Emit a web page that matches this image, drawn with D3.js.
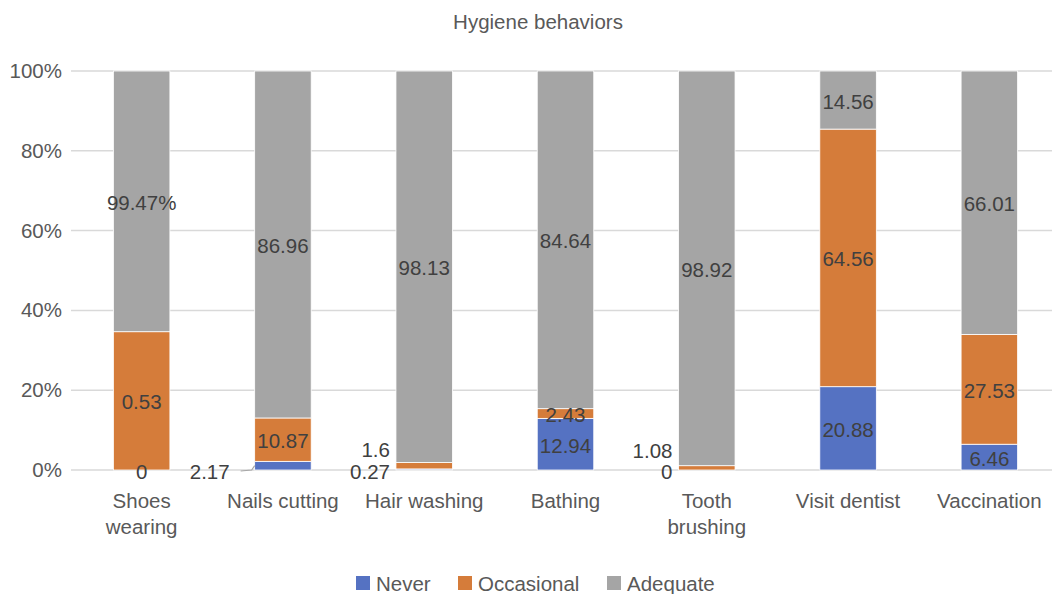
<!DOCTYPE html>
<html>
<head>
<meta charset="utf-8">
<script src="https://cdn.jsdelivr.net/npm/d3@7"></script>
<style>
  body { margin: 0; background: #fff; }
  text { font-family: "Liberation Sans", Arial, sans-serif; }
</style>
</head>
<body>
<div id="chart"></div>
<script>
// chart data
const categories = ['Shoes wearing', 'Nails cutting', 'Hair washing', 'Bathing', 'Tooth brushing', 'Visit dentist', 'Vaccination'];
const seriesNames = ['Never', 'Occasional', 'Adequate'];
// bar heights as drawn in the picture (shoes wearing bar does not match its labels)
const neverVals = [0, 2.17, 0.27, 12.94, 0, 20.88, 6.46];
const occasionalVals = [34.66, 10.87, 1.6, 2.43, 1.08, 64.56, 27.53];
const adequateVals = [65.34, 86.96, 98.13, 84.64, 98.92, 14.56, 66.01];
// label texts shown on the chart
const neverLabels = ['0', '2.17', '0.27', '12.94', '0', '20.88', '6.46'];
const occasionalLabels = ['0.53', '10.87', '1.6', '2.43', '1.08', '64.56', '27.53'];
const adequateLabels = ['99.47%', '86.96', '98.13', '84.64', '98.92', '14.56', '66.01'];
const yTicks = [0, 20, 40, 60, 80, 100];

// chart static params
const width = 1052, height = 594;
const colors = {Never: '#5572c2', Occasional: '#d57c3a', Adequate: '#a5a5a5'};
const margin = {top: 71, right: -8, bottom: 124, left: 71};
const plotW = width - margin.left - margin.right;
const plotH = height - margin.top - margin.bottom;
// labels that Excel pushed outside the thin segments: [category index, series, lift in px]
const outsideLabels = [[1, 'Never', 0], [2, 'Never', 0], [2, 'Occasional', 22], [4, 'Never', 0], [4, 'Occasional', 21]];

const rows = categories.map((c, i) => ({
  cat: c,
  Never: neverVals[i], Occasional: occasionalVals[i], Adequate: adequateVals[i],
  labels: {Never: neverLabels[i], Occasional: occasionalLabels[i], Adequate: adequateLabels[i]}
}));
const stacked = d3.stack().keys(seriesNames)(rows);

const xScale = d3.scaleBand().domain(categories).range([0, plotW]).padding(0);
const yScale = d3.scaleLinear().domain([0, 100]).range([plotH, 0]);
const barW = xScale.bandwidth() * 0.4;

const svg = d3.select('#chart').append('svg')
  .attr('width', width).attr('height', height);

svg.append('text')
  .attr('x', 538).attr('y', 29)
  .attr('text-anchor', 'middle')
  .attr('font-size', 20.5).attr('fill', '#595959')
  .text('Hygiene behaviors');

const g = svg.append('g').attr('transform', `translate(${margin.left},${margin.top})`);

// grid
g.append('g').selectAll('line').data(yTicks).join('line')
  .attr('x1', 0).attr('x2', plotW)
  .attr('y1', d => yScale(d)).attr('y2', d => yScale(d))
  .attr('stroke', '#d9d9d9').attr('stroke-width', 1.5);

// y axis labels
const yAxis = g.append('g').call(d3.axisLeft(yScale).tickValues(yTicks).tickFormat(d => d + '%').tickSize(0).tickPadding(9));
yAxis.select('.domain').remove();
yAxis.selectAll('text').attr('font-size', 20.5).attr('fill', '#595959').attr('font-family', '"Liberation Sans", Arial, sans-serif');

// bars
g.append('g').selectAll('g').data(stacked).join('g')
  .attr('fill', d => colors[d.key])
  .selectAll('rect').data(d => d).join('rect')
    .attr('x', d => xScale(d.data.cat) + (xScale.bandwidth() - barW) / 2)
    .attr('width', barW)
    .attr('y', d => yScale(d[1]))
    .attr('height', d => yScale(d[0]) - yScale(d[1]))
    .attr('stroke', '#fff').attr('stroke-width', 0.8);

// data labels
const isOutside = (i, key) => outsideLabels.find(o => o[0] === i && o[1] === key);
stacked.forEach(s => {
  s.forEach((d, i) => {
    const out = isOutside(i, s.key);
    const cx = xScale(d.data.cat) + xScale.bandwidth() / 2;
    const cy = yScale((d[0] + d[1]) / 2);
    const t = g.append('text')
      .attr('font-size', 20.5).attr('fill', '#404040')
      .attr('dominant-baseline', 'central')
      .text(d.data.labels[s.key]);
    if (out) {
      t.attr('x', cx - barW / 2 - 6 - (i === 1 ? 19 : 0))
        .attr('y', yScale(0) + 1 - out[2])
        .attr('text-anchor', 'end');
      if (i === 1) {
        // leader line for nails cutting
        const x0 = cx - barW / 2;
        g.append('path')
          .attr('d', `M${x0 - 14},${yScale(0) + 1}L${x0 - 3},${yScale(0)}L${x0},${cy}`)
          .attr('fill', 'none').attr('stroke', '#a6a6a6').attr('stroke-width', 1.2);
      }
    } else {
      t.attr('x', cx).attr('y', cy + 1).attr('text-anchor', 'middle');
    }
  });
});

// x axis labels
const xLabels = g.append('g').attr('transform', `translate(0,${plotH})`);
categories.forEach(c => {
  const words = c === 'Shoes wearing' || c === 'Tooth brushing' ? c.split(' ') : [c];
  const t = xLabels.append('text')
    .attr('x', xScale(c) + xScale.bandwidth() / 2)
    .attr('y', 38)
    .attr('text-anchor', 'middle')
    .attr('font-size', 20.5).attr('fill', '#595959');
  words.forEach((w, k) => t.append('tspan')
    .attr('x', xScale(c) + xScale.bandwidth() / 2)
    .attr('dy', k === 0 ? 0 : 26)
    .text(w));
});

// legend
const legendX = [356, 458, 607];
const legend = svg.append('g').selectAll('g').data(seriesNames).join('g')
  .attr('transform', (d, i) => `translate(${legendX[i]},576)`);
legend.append('rect').attr('width', 14).attr('height', 14).attr('fill', d => colors[d]);
legend.append('text')
  .attr('x', 20).attr('y', 7)
  .attr('dominant-baseline', 'central')
  .attr('font-size', 20.5).attr('fill', '#595959')
  .text(d => d);
</script>
</body>
</html>
